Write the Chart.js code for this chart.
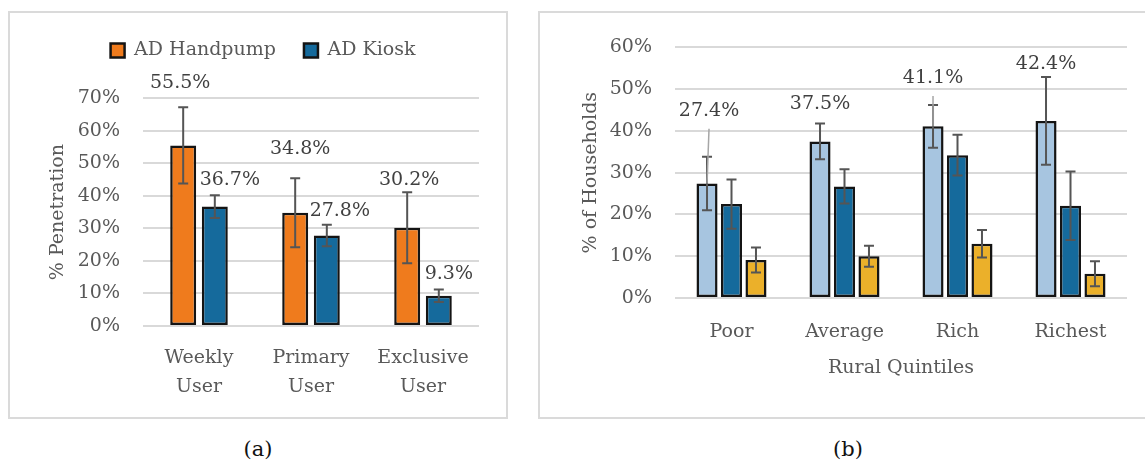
<!DOCTYPE html>
<html>
<head>
<meta charset="utf-8">
<script src="https://cdn.jsdelivr.net/npm/chart.js@4.4.1/dist/chart.umd.min.js"></script>
<style>
  body { margin: 0; background: #fff; width: 1145px; height: 470px; overflow: hidden; position: relative; }
  .panel { position: absolute; box-sizing: border-box; border: 2px solid #dadada; background: #fff; }
  .panel canvas { position: absolute; left: 0; top: 0; }
  .cap { position: absolute; top: 437px; width: 100px; text-align: center; font: 21px "DejaVu Serif"; color: #111; }
</style>
</head>
<body>
<div class="panel" style="left:8px;top:11px;width:500px;height:408px"><canvas id="chartA" width="496" height="404"></canvas></div>
<div class="panel" style="left:538px;top:11px;width:620px;height:408px"><canvas id="chartB" width="600" height="404"></canvas></div>
<div class="cap" style="left:208px">(a)</div>
<div class="cap" style="left:798px">(b)</div>

<script>
// (a) penetration by user type
const usageCats = [['Weekly', 'User'], ['Primary', 'User'], ['Exclusive', 'User']];
const handpump = [55.5, 34.8, 30.2];
const handpumpErr = [11.7, 10.6, 10.9];
const kiosk = [36.7, 27.8, 9.3];
const kioskErr = [3.5, 3.3, 1.9];
const penetrationTicks = [0, 10, 20, 30, 40, 50, 60, 70];

// (b) households by rural quintile
const quintiles = ['Poor', 'Average', 'Rich', 'Richest'];
const seriesLight = [27.4, 37.5, 41.1, 42.4];
const seriesLightErr = [6.4, 4.3, 5.1, 10.5];
const seriesDark = [22.5, 26.7, 34.2, 22.1];
const seriesDarkErr = [5.9, 4.1, 4.9, 8.2];
const seriesGold = [9.1, 10.0, 13.0, 5.8];
const seriesGoldErr = [3.0, 2.5, 3.3, 3.0];
const householdTicks = [0, 10, 20, 30, 40, 50, 60];

const FONT = 'DejaVu Serif';
const GREY = '#595959';
const GRID = '#d9d9d9';
const OUTLINE = '#141414';

// error bars + value labels (labels were hand-placed in the original, hence the nudges)
const barExtras = {
  id: 'barExtras',
  afterDatasetsDraw(chart) {
    const ctx = chart.ctx;
    const y = chart.scales.y;
    ctx.save();
    chart.data.datasets.forEach((ds, i) => {
      const meta = chart.getDatasetMeta(i);
      meta.data.forEach((bar, j) => {
        const v = ds.data[j], e = ds.err[j];
        const yt = y.getPixelForValue(v + e);
        const yb = y.getPixelForValue(v - e);
        ctx.strokeStyle = '#555555';
        ctx.lineWidth = 2;
        ctx.beginPath();
        ctx.moveTo(bar.x, yt); ctx.lineTo(bar.x, yb);
        ctx.moveTo(bar.x - 5, yt); ctx.lineTo(bar.x + 5, yt);
        ctx.moveTo(bar.x - 5, yb); ctx.lineTo(bar.x + 5, yb);
        ctx.stroke();
        if (!ds.labelDy) return;
        const lx = bar.x + ds.labelDx[j];
        const ly = yt - 14 + ds.labelDy[j];
        if (ds.leader && ds.leader[j]) {
          ctx.strokeStyle = '#a6a6a6';
          ctx.lineWidth = 1.5;
          ctx.beginPath();
          ctx.moveTo(lx, ly + 18);
          ctx.lineTo(bar.x, bar.y);
          ctx.stroke();
        }
        ctx.fillStyle = '#404040';
        ctx.font = '19px "' + FONT + '"';
        ctx.textAlign = 'center';
        ctx.textBaseline = 'middle';
        ctx.fillText(v.toFixed(1) + '%', lx, ly);
      });
    });
    ctx.restore();
  }
};

const yScale = (ticks, title, width) => ({
  min: ticks[0],
  max: ticks[ticks.length - 1],
  afterFit: s => { s.width = width; },
  border: { display: false },
  grid: { color: GRID, lineWidth: 2, drawTicks: false },
  ticks: {
    stepSize: ticks[1] - ticks[0],
    padding: 23,
    color: GREY,
    font: { family: FONT, size: 19 },
    callback: v => v + '%'
  },
  title: { display: true, text: title, color: GREY, font: { family: FONT, size: 19 }, padding: 0 }
});

new Chart(document.getElementById('chartA'), {
  type: 'bar',
  data: {
    labels: usageCats,
    datasets: [
      { label: 'AD Handpump', data: handpump, err: handpumpErr, backgroundColor: '#ef7b1d',
        labelDx: [-3, 5, 2], labelDy: [-10, -15, 2] },
      { label: 'AD Kiosk', data: kiosk, err: kioskErr, backgroundColor: '#156a9c',
        labelDx: [15, 13, 10], labelDy: [-1, 0, -1] }
    ].map(d => Object.assign(d, { borderColor: OUTLINE, borderWidth: 2.5, borderSkipped: false,
      categoryPercentage: 0.565, barPercentage: 0.82 }))
  },
  options: {
    responsive: false,
    animation: false,
    layout: { padding: { left: 37, right: 27, top: 0, bottom: 0 } },
    plugins: {
      tooltip: { enabled: false },
      legend: {
        position: 'top',
        labels: { boxWidth: 14, boxHeight: 14, padding: 28, color: GREY, font: { family: FONT, size: 19 } }
      },
      // empty spacer between legend and plot
      title: { display: true, text: '', weight: 500, font: { size: 1 }, padding: { top: 27, bottom: 0 } }
    },
    scales: {
      x: {
        afterFit: s => { s.height = 91; },
        border: { display: false },
        grid: { display: false, drawTicks: false },
        ticks: { padding: 18, color: GREY, font: { family: FONT, size: 19, lineHeight: 1.5 } }
      },
      y: yScale(penetrationTicks, '% Penetration', 96)
    }
  },
  plugins: [barExtras]
});

new Chart(document.getElementById('chartB'), {
  type: 'bar',
  data: {
    labels: quintiles,
    datasets: [
      { label: 'Series 1', data: seriesLight, err: seriesLightErr, backgroundColor: '#a7c5e0',
        labelDx: [2, 0, 0, 0], labelDy: [-32, -5, -13, 1], leader: [true, false, true, false] },
      { label: 'Series 2', data: seriesDark, err: seriesDarkErr, backgroundColor: '#156a9c' },
      { label: 'Series 3', data: seriesGold, err: seriesGoldErr, backgroundColor: '#ebb02a' }
    ].map(d => Object.assign(d, { borderColor: OUTLINE, borderWidth: 2.5, borderSkipped: false,
      categoryPercentage: 0.65, barPercentage: 0.86 }))
  },
  options: {
    responsive: false,
    animation: false,
    layout: { padding: { left: 40, right: 13, top: 30, bottom: 0 } },
    plugins: { tooltip: { enabled: false }, legend: { display: false } },
    scales: {
      x: {
        afterFit: s => { s.height = 119; },
        border: { display: false },
        grid: { display: false, drawTicks: false },
        ticks: { padding: 23, color: GREY, font: { family: FONT, size: 19 } },
        title: { display: true, text: 'Rural Quintiles', color: GREY, font: { family: FONT, size: 19 },
          padding: { top: 0, bottom: 38 } }
      },
      y: yScale(householdTicks, '% of Households', 95)
    }
  },
  plugins: [barExtras]
});
</script>
</body>
</html>
